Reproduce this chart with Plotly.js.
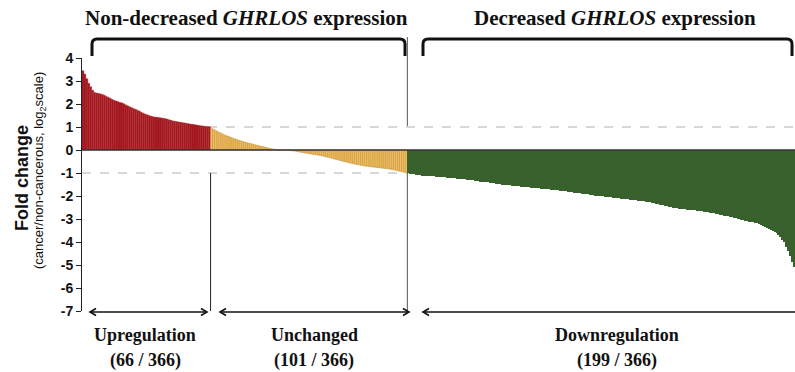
<!DOCTYPE html>
<html>
<head>
<meta charset="utf-8">
<script src="https://cdn.plot.ly/plotly-3.0.1.min.js"></script>
<style>html,body{margin:0;padding:0;background:#fff;}#chart{width:795px;height:372px;}</style>
</head>
<body>
<div id="chart"></div>
<script>
// Fold change (log2, cancer / non-cancerous), sorted descending
const upValues = [3.45,3.3,3.1,2.9,2.75,2.6,2.5,2.48,2.46,2.44,
 2.41,2.38,2.33,2.29,2.25,2.2,2.16,2.13,2.1,2.07,
 2.05,2.01,1.96,1.92,1.88,1.84,1.8,1.77,1.73,1.69,
 1.64,1.6,1.56,1.53,1.5,1.47,1.45,1.43,1.42,1.41,
 1.4,1.38,1.37,1.35,1.32,1.3,1.27,1.25,1.24,1.22,
 1.21,1.19,1.18,1.16,1.15,1.13,1.12,1.11,1.09,1.08,
 1.06,1.05,1.04,1.03,1.02,1.01];

const unchangedValues = [0.93,0.9,0.85,0.8,0.76,0.73,0.68,0.64,0.61,0.58,
 0.54,0.51,0.48,0.45,0.42,0.4,0.37,0.34,0.32,0.3,
 0.28,0.26,0.23,0.21,0.19,0.17,0.15,0.13,0.11,0.09,
 0.07,0.05,0.03,0.02,0.01,0.0,-0.003,-0.005,-0.01,-0.01,
 -0.02,-0.03,-0.04,-0.05,-0.07,-0.08,-0.1,-0.11,-0.13,-0.14,
 -0.16,-0.17,-0.19,-0.2,-0.21,-0.23,-0.24,-0.26,-0.28,-0.3,
 -0.32,-0.34,-0.36,-0.39,-0.41,-0.43,-0.45,-0.48,-0.5,-0.52,
 -0.54,-0.56,-0.58,-0.6,-0.62,-0.64,-0.65,-0.67,-0.68,-0.7,
 -0.71,-0.72,-0.73,-0.74,-0.75,-0.76,-0.77,-0.78,-0.79,-0.8,
 -0.81,-0.82,-0.84,-0.85,-0.87,-0.89,-0.91,-0.93,-0.95,-0.97,
 -0.99];

const downValues = [-1.02,-1.04,-1.05,-1.06,-1.07,-1.08,-1.1,-1.11,-1.12,-1.12,
 -1.13,-1.14,-1.14,-1.15,-1.16,-1.17,-1.17,-1.18,-1.19,-1.19,
 -1.2,-1.21,-1.21,-1.22,-1.23,-1.24,-1.25,-1.26,-1.27,-1.28,
 -1.29,-1.3,-1.31,-1.32,-1.33,-1.34,-1.36,-1.37,-1.38,-1.39,
 -1.4,-1.41,-1.42,-1.44,-1.45,-1.46,-1.47,-1.48,-1.5,-1.51,
 -1.52,-1.53,-1.54,-1.55,-1.56,-1.56,-1.57,-1.58,-1.59,-1.6,
 -1.61,-1.62,-1.63,-1.64,-1.65,-1.66,-1.66,-1.67,-1.68,-1.69,
 -1.7,-1.71,-1.71,-1.72,-1.73,-1.74,-1.75,-1.76,-1.77,-1.78,
 -1.79,-1.8,-1.82,-1.83,-1.84,-1.85,-1.86,-1.88,-1.89,-1.9,
 -1.91,-1.92,-1.93,-1.94,-1.95,-1.96,-1.98,-1.99,-2.0,-2.01,
 -2.02,-2.03,-2.04,-2.05,-2.06,-2.07,-2.08,-2.09,-2.1,-2.11,
 -2.12,-2.13,-2.14,-2.15,-2.16,-2.17,-2.18,-2.19,-2.2,-2.21,
 -2.22,-2.23,-2.24,-2.25,-2.27,-2.29,-2.31,-2.33,-2.35,-2.37,
 -2.39,-2.4,-2.42,-2.44,-2.46,-2.48,-2.5,-2.52,-2.54,-2.55,
 -2.56,-2.57,-2.58,-2.59,-2.6,-2.61,-2.62,-2.63,-2.64,-2.65,
 -2.66,-2.67,-2.68,-2.69,-2.71,-2.72,-2.73,-2.75,-2.77,-2.79,
 -2.81,-2.83,-2.85,-2.87,-2.89,-2.91,-2.93,-2.95,-2.97,-2.99,
 -3.01,-3.03,-3.05,-3.07,-3.09,-3.11,-3.13,-3.15,-3.17,-3.19,
 -3.21,-3.25,-3.3,-3.34,-3.38,-3.42,-3.46,-3.51,-3.56,-3.62,
 -3.7,-3.8,-3.9,-4.02,-4.2,-4.4,-4.62,-4.85,-5.1];

const yTickVals = [4,3,2,1,0,-1,-2,-3,-4,-5,-6,-7];
const groupNames = ["Upregulation","Unchanged","Downregulation"];
const topTitles = ["Non-decreased <i>GHRLOS</i> expression","Decreased <i>GHRLOS</i> expression"];

const nUp = upValues.length, nUn = unchangedValues.length, nDown = downValues.length;
const nTotal = nUp + nUn + nDown;
const idx = (start, n) => Array.from({length:n}, (_, i) => start + i);

// plot area geometry (pixels)
const W = 795, H = 372, L = 82, R = 0, T = 58, B = 61;
const pw = W - L - R, ph = H - T - B;
const X = px => (px - L) / pw;
const Y = py => (H - B - py) / ph;

const serif = "Liberation Serif, Times New Roman, serif";
const sans = "Liberation Sans, Arial, sans-serif";

const traces = [
  {type:"bar", x:idx(0,nUp), y:upValues, marker:{color:"rgb(168,26,32)", line:{color:"rgb(150,20,26)", width:0.3}}, hoverinfo:"y"},
  {type:"bar", x:idx(nUp,nUn), y:unchangedValues, marker:{color:"rgb(242,192,96)", line:{color:"rgb(195,140,55)", width:0.5}}, hoverinfo:"y"},
  {type:"bar", x:idx(nUp+nUn,nDown), y:downValues, marker:{color:"rgb(56,97,46)", line:{width:0}}, hoverinfo:"y"}
];

function bracket(x0, x1, yTop, yBot, r) {
  return `M ${X(x0)},${Y(yBot)} L ${X(x0)},${Y(yTop + r)} Q ${X(x0)},${Y(yTop)} ${X(x0 + r)},${Y(yTop)} ` +
         `L ${X(x1 - r)},${Y(yTop)} Q ${X(x1)},${Y(yTop)} ${X(x1)},${Y(yTop + r)} L ${X(x1)},${Y(yBot)}`;
}
function arrowShapes(x0, x1, py, headL, headR) {
  const s = [{type:"line", xref:"paper", yref:"paper", x0:X(x0), x1:X(x1), y0:Y(py), y1:Y(py), line:{color:"#111", width:1.6}}];
  if (headL) s.push({type:"path", xref:"paper", yref:"paper",
    path:`M ${X(x0+6)},${Y(py-3.5)} L ${X(x0)},${Y(py)} L ${X(x0+6)},${Y(py+3.5)}`, line:{color:"#111", width:1.6}});
  if (headR) s.push({type:"path", xref:"paper", yref:"paper",
    path:`M ${X(x1-6)},${Y(py-3.5)} L ${X(x1)},${Y(py)} L ${X(x1-6)},${Y(py+3.5)}`, line:{color:"#111", width:1.6}});
  return s;
}

const shapes = [
  {type:"line", xref:"paper", yref:"y", x0:0, x1:1, y0:1, y1:1, line:{color:"#b0b0b0", width:1, dash:"dash"}, layer:"below"},
  {type:"line", xref:"paper", yref:"y", x0:0, x1:1, y0:-1, y1:-1, line:{color:"#b0b0b0", width:1, dash:"dash"}, layer:"below"},
  {type:"line", xref:"x", yref:"y", x0:nUp-0.5, x1:nUp-0.5, y0:-7, y1:-1, line:{color:"#222", width:1}, layer:"below"},
  {type:"line", xref:"x", yref:"y", x0:nUp+nUn-0.5, x1:nUp+nUn-0.5, y0:-7, y1:-1, line:{color:"#555", width:1}, layer:"below"},
  {type:"line", xref:"x", yref:"paper", x0:nUp+nUn-0.5, x1:nUp+nUn-0.5, y0:Y(126), y1:Y(37), line:{color:"#555", width:1}, layer:"below"},
  {type:"line", xref:"paper", yref:"y", x0:0, x1:1, y0:0, y1:0, line:{color:"#333", width:1.5}, layer:"above"},
  {type:"path", xref:"paper", yref:"paper", path:bracket(92, 405, 39, 56, 5), line:{color:"#111", width:3}},
  {type:"path", xref:"paper", yref:"paper", path:bracket(423, 792, 39, 56, 5), line:{color:"#111", width:3}},
  ...arrowShapes(90, 207, 312, true, true),
  ...arrowShapes(220, 409, 312, true, true),
  ...arrowShapes(423, 800, 312, true, false)
];

function label(px, py, txt, size, fam) {
  return {xref:"paper", yref:"paper", x:X(px), y:Y(py), text:txt, showarrow:false, xanchor:"center", yanchor:"middle",
          font:{family:fam || serif, size:size, color:"#111"}};
}

const annotations = [
  label(246, 18, "<b>" + topTitles[0] + "</b>", 21),
  label(615, 18, "<b>" + topTitles[1] + "</b>", 21),
  label(145, 335, "<b>" + groupNames[0] + "</b>", 18),
  label(145, 360, `<b>(${nUp} / ${nTotal})</b>`, 18),
  label(314, 335, "<b>" + groupNames[1] + "</b>", 18),
  label(314, 360, `<b>(${nUn} / ${nTotal})</b>`, 18),
  label(617, 335, "<b>" + groupNames[2] + "</b>", 18),
  label(617, 360, `<b>(${nDown} / ${nTotal})</b>`, 18),
  Object.assign(label(22, 178, "<b>Fold change</b>", 18, sans), {textangle:-90}),
  Object.assign(label(39, 171, "(cancer/non-cancerous, log<sub>2</sub>scale)", 13, sans), {textangle:-90})
];

const layout = {
  width:W, height:H, margin:{l:L, r:R, t:T, b:B, pad:0},
  paper_bgcolor:"#fff", plot_bgcolor:"#fff",
  showlegend:false, bargap:0, barmode:"overlay",
  xaxis:{range:[-0.5, nTotal-0.5], showgrid:false, zeroline:false, showline:false, showticklabels:false, ticks:"", fixedrange:true},
  yaxis:{range:[-7, 4], tickvals:yTickVals, ticktext:yTickVals.map(String), showgrid:false, zeroline:false,
         showline:true, linecolor:"#222", linewidth:1, ticks:"outside", ticklen:5, tickcolor:"#222", tickwidth:1,
         tickfont:{family:sans, size:14, color:"#111", weight:"bold"}, fixedrange:true},
  shapes:shapes, annotations:annotations
};

Plotly.newPlot("chart", traces, layout, {displayModeBar:false, staticPlot:true});
</script>
</body>
</html>
